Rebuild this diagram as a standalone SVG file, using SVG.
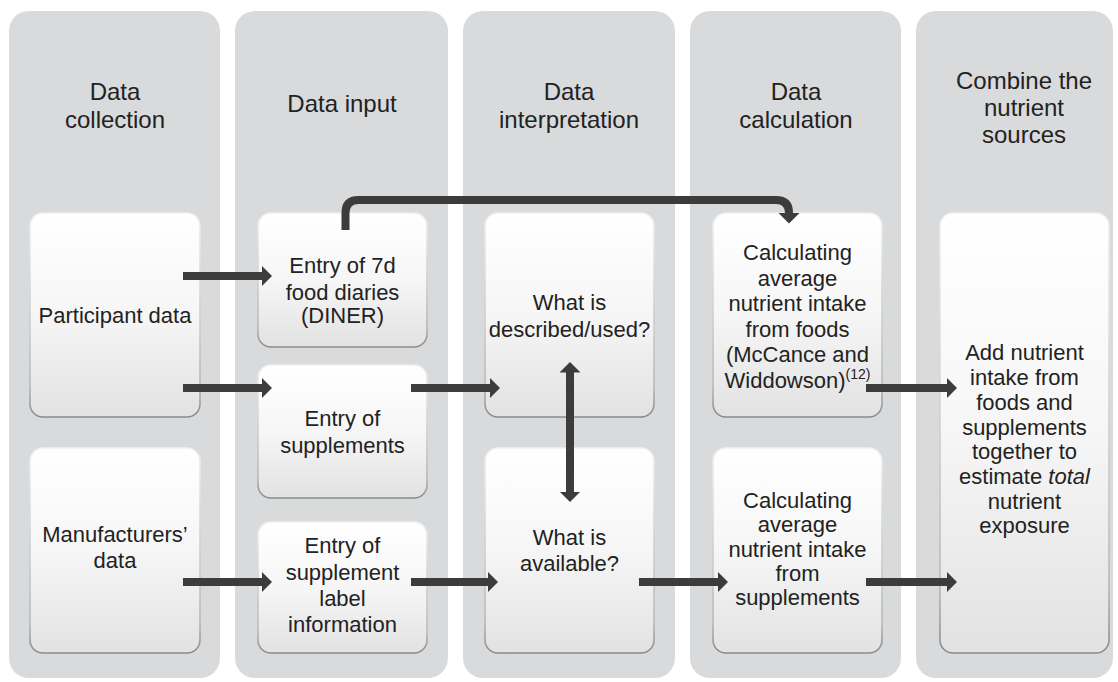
<svg xmlns="http://www.w3.org/2000/svg" width="1118" height="682" viewBox="0 0 1118 682">
<style>
.col{fill:#d9dadc}
.box{fill:url(#bg);stroke:url(#bs);stroke-width:1.6}
.h{font-family:"Liberation Sans",Arial,sans-serif;font-size:24px;fill:#222;text-anchor:middle}
.t{font-family:"Liberation Sans",Arial,sans-serif;font-size:22px;fill:#222;text-anchor:middle}
.sup{font-size:14px}
.arr{fill:none;stroke:#3c3c3c;stroke-width:8}
</style>
<defs>
<linearGradient id="bg" x1="0" y1="0" x2="0" y2="1">
<stop offset="0" stop-color="#ffffff"/>
<stop offset="0.5" stop-color="#f6f6f6"/>
<stop offset="1" stop-color="#e2e2e3"/>
</linearGradient>
<linearGradient id="bs" x1="0" y1="0" x2="0" y2="1">
<stop offset="0" stop-color="#f0f0f0"/>
<stop offset="0.85" stop-color="#b8b8b8"/>
<stop offset="1" stop-color="#8a8a8a"/>
</linearGradient>
<marker id="ah" markerUnits="userSpaceOnUse" markerWidth="11" markerHeight="22" refX="0.5" refY="10.5" orient="auto-start-reverse" viewBox="0 0 11 22">
<path d="M0,0 L10.5,10.5 L0,21 z" fill="#3c3c3c"/>
</marker>
</defs>

<g id="columns">
<rect class="col" x="9" y="11" width="211" height="667" rx="20"/>
<rect class="col" x="235" y="11" width="213" height="667" rx="20"/>
<rect class="col" x="463" y="11" width="212" height="667" rx="20"/>
<rect class="col" x="690" y="11" width="211" height="667" rx="20"/>
<rect class="col" x="916" y="11" width="197" height="667" rx="20"/>
</g>

<g id="header-collection"><text class="h" x="115" y="100">Data</text><text class="h" x="115" y="128">collection</text></g>
<g id="header-input"><text class="h" x="342" y="112">Data input</text></g>
<g id="header-interpretation"><text class="h" x="569" y="100">Data</text><text class="h" x="569" y="128">interpretation</text></g>
<g id="header-calculation"><text class="h" x="796" y="100">Data</text><text class="h" x="796" y="128">calculation</text></g>
<g id="header-combine"><text class="h" x="1024" y="89">Combine the</text><text class="h" x="1024" y="116">nutrient</text><text class="h" x="1024" y="143">sources</text></g>

<g id="participant-data"><rect class="box" x="30" y="213" width="170" height="204" rx="13"/><text class="t" x="115" y="323">Participant data</text></g>
<g id="manufacturers-data"><rect class="box" x="30" y="448" width="170" height="205" rx="13"/><text class="t" x="115" y="542">Manufacturers’</text><text class="t" x="115" y="568">data</text></g>

<g id="entry-diaries"><rect class="box" x="258" y="213" width="169" height="134" rx="13"/><text class="t" x="342.5" y="273">Entry of 7d</text><text class="t" x="342.5" y="300">food diaries</text><text class="t" x="342.5" y="323">(DINER)</text></g>
<g id="entry-supplements"><rect class="box" x="258" y="365" width="169" height="133" rx="13"/><text class="t" x="342.5" y="426">Entry of</text><text class="t" x="342.5" y="453">supplements</text></g>
<g id="entry-label"><rect class="box" x="258" y="522" width="169" height="131" rx="13"/><text class="t" x="342.5" y="553">Entry of</text><text class="t" x="342.5" y="580">supplement</text><text class="t" x="342.5" y="606">label</text><text class="t" x="342.5" y="632">information</text></g>

<g id="what-described"><rect class="box" x="485" y="213" width="169" height="204" rx="13"/><text class="t" x="569.5" y="310">What is</text><text class="t" x="569.5" y="337">described/used?</text></g>
<g id="what-available"><rect class="box" x="485" y="448" width="169" height="205" rx="13"/><text class="t" x="569.5" y="545">What is</text><text class="t" x="569.5" y="571">available?</text></g>

<g id="calc-foods"><rect class="box" x="713" y="213" width="169" height="204" rx="13"/>
<text class="t" x="797.5" y="260">Calculating</text><text class="t" x="797.5" y="285.5">average</text><text class="t" x="797.5" y="311">nutrient intake</text><text class="t" x="797.5" y="336.5">from foods</text><text class="t" x="797.5" y="362">(McCance and</text><text class="t" x="797.5" y="387.5">Widdowson)<tspan class="sup" dy="-9">(12)</tspan></text></g>
<g id="calc-supplements"><rect class="box" x="713" y="448" width="169" height="205" rx="13"/>
<text class="t" x="797.5" y="508">Calculating</text><text class="t" x="797.5" y="532">average</text><text class="t" x="797.5" y="556.5">nutrient intake</text><text class="t" x="797.5" y="581">from</text><text class="t" x="797.5" y="605">supplements</text></g>

<g id="add-total"><rect class="box" x="940" y="213" width="169" height="440" rx="13"/>
<text class="t" x="1024.5" y="360">Add nutrient</text><text class="t" x="1024.5" y="385">intake from</text><text class="t" x="1024.5" y="410">foods and</text><text class="t" x="1024.5" y="434.5">supplements</text><text class="t" x="1024.5" y="459">together to</text><text class="t" x="1024.5" y="484">estimate <tspan font-style="italic">total</tspan></text><text class="t" x="1024.5" y="508.5">nutrient</text><text class="t" x="1024.5" y="533">exposure</text></g>

<g id="connectors">
<line class="arr" x1="183" y1="276" x2="262" y2="276" marker-end="url(#ah)"/>
<line class="arr" x1="183" y1="388" x2="262" y2="388" marker-end="url(#ah)"/>
<line class="arr" x1="183" y1="582" x2="262" y2="582" marker-end="url(#ah)"/>
<line class="arr" x1="411" y1="388" x2="490" y2="388" marker-end="url(#ah)"/>
<line class="arr" x1="411" y1="582" x2="488" y2="582" marker-end="url(#ah)"/>
<line class="arr" x1="639" y1="582" x2="718" y2="582" marker-end="url(#ah)"/>
<line class="arr" x1="866" y1="582" x2="947" y2="582" marker-end="url(#ah)"/>
<line class="arr" x1="866" y1="388" x2="947" y2="388" marker-end="url(#ah)"/>
<line class="arr" x1="570" y1="372" x2="570" y2="492" marker-start="url(#ah)" marker-end="url(#ah)"/>
<path class="arr" d="M345.5 230 V213 Q345.5 200 358.5 200 H776 Q789 200 789 213 V213.5" marker-end="url(#ah)"/>
</g>
</svg>
